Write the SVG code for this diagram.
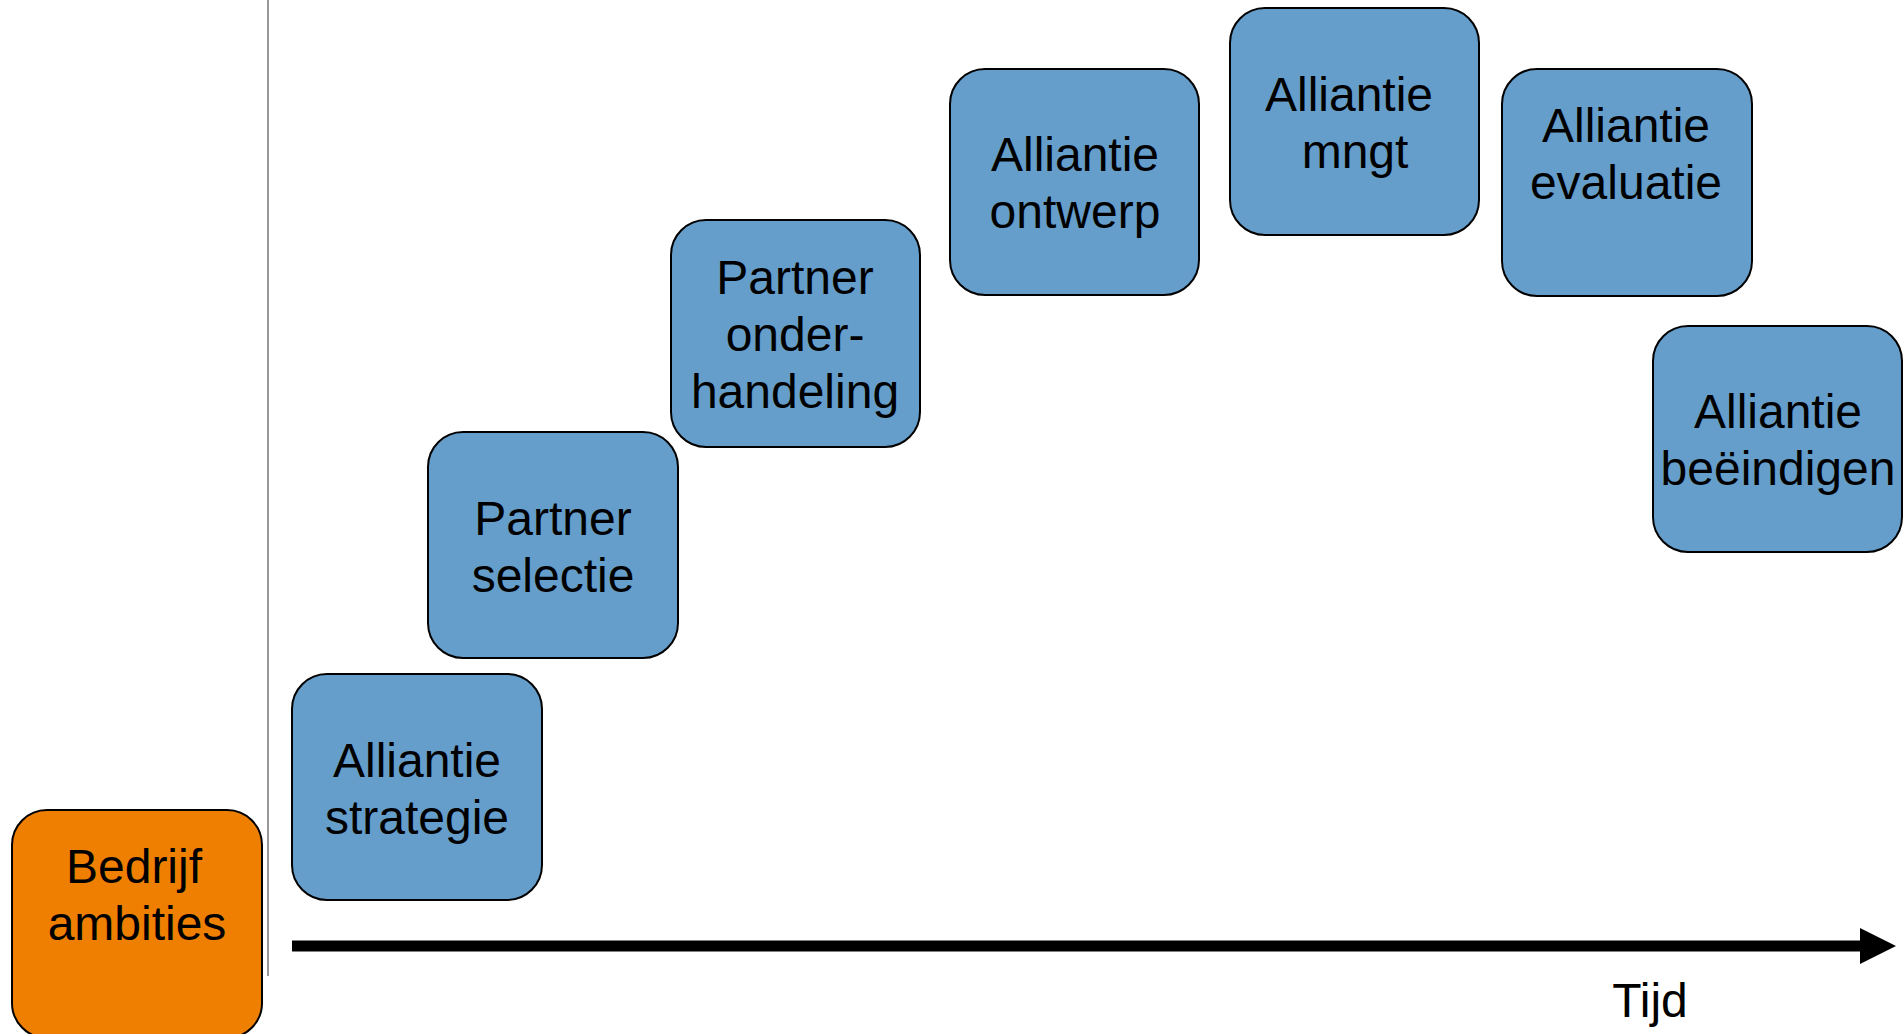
<svg xmlns="http://www.w3.org/2000/svg" width="1903" height="1034" viewBox="0 0 1903 1034">
<style>
.box{fill:#659ecb;stroke:#000;stroke-width:2}
.org{fill:#ee7f00;stroke:#000;stroke-width:2}
.t{font-family:"Liberation Sans",Arial,sans-serif;font-size:48px;fill:#000;text-anchor:middle}
</style>
<defs>
<marker id="ah" markerUnits="userSpaceOnUse" markerWidth="36" markerHeight="36" refX="0" refY="18" orient="auto">
<path d="M0,0 L36,18 L0,36 Z" fill="#000"/>
</marker>
</defs>
<rect width="1903" height="1034" fill="#fff"/>
<g id="connectors">
<line x1="268" y1="0" x2="268" y2="976" stroke="#777" stroke-width="1.5"/>
<line x1="292" y1="946" x2="1860" y2="946" stroke="#000" stroke-width="11" marker-end="url(#ah)"/>
</g>
<g id="bedrijf">
<rect class="org" x="12" y="810" width="250" height="228" rx="35"/>
<text class="t" x="134" y="883">Bedrijf</text>
<text class="t" x="137" y="940">ambities</text>
</g>
<g id="strategie">
<rect class="box" x="292" y="674" width="250" height="226" rx="35"/>
<text class="t" x="417" y="777">Alliantie</text>
<text class="t" x="417" y="834">strategie</text>
</g>
<g id="selectie">
<rect class="box" x="428" y="432" width="250" height="226" rx="35"/>
<text class="t" x="553" y="535">Partner</text>
<text class="t" x="553" y="592">selectie</text>
</g>
<g id="onderhandeling">
<rect class="box" x="671" y="220" width="249" height="227" rx="35"/>
<text class="t" x="795" y="294">Partner</text>
<text class="t" x="795" y="351">onder-</text>
<text class="t" x="795" y="408">handeling</text>
</g>
<g id="ontwerp">
<rect class="box" x="950" y="69" width="249" height="226" rx="35"/>
<text class="t" x="1075" y="171">Alliantie</text>
<text class="t" x="1075" y="228">ontwerp</text>
</g>
<g id="mngt">
<rect class="box" x="1230" y="8" width="249" height="227" rx="35"/>
<text class="t" x="1349" y="111">Alliantie</text>
<text class="t" x="1355" y="168">mngt</text>
</g>
<g id="evaluatie">
<rect class="box" x="1502" y="69" width="250" height="227" rx="35"/>
<text class="t" x="1626" y="142">Alliantie</text>
<text class="t" x="1626" y="199">evaluatie</text>
</g>
<g id="beeindigen">
<rect class="box" x="1653" y="326" width="249" height="226" rx="35"/>
<text class="t" x="1778" y="428">Alliantie</text>
<text class="t" x="1778" y="485">beëindigen</text>
</g>
<text class="t" x="1650" y="1017">Tijd</text>
</svg>
